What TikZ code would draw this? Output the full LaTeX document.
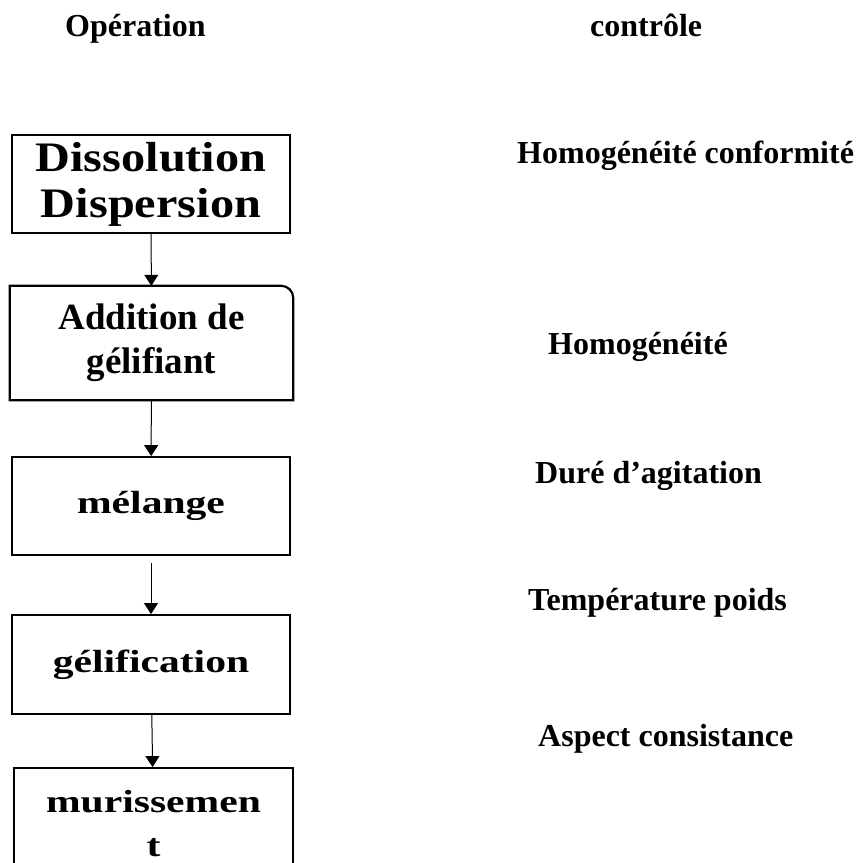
\documentclass[tikz,border=0pt]{standalone}
\usepackage{fontspec}
\setmainfont{Liberation Serif}
\newfontfamily\widefont[FakeStretch=1.3]{Liberation Serif}
\newfontfamily\semiwidefont[FakeStretch=1.15]{Liberation Serif}
\usetikzlibrary{arrows.meta}

\begin{document}
\begin{tikzpicture}
    [x=1pt, y=-1pt, >={Triangle[width=14pt,length=11pt]},
     op/.style={draw, line width=1.8pt, minimum width=278pt, minimum height=98pt, inner sep=0pt, align=center},
     ctl/.style={anchor=base west, inner sep=0pt, font=\fontsize{32}{38}\selectfont\bfseries},
     flow/.style={->, line width=1pt}]
    \useasboundingbox (0,0) rectangle (856,863);
    % headers
    \node[ctl] (hop) at (65,36) {Opération};
    \node[ctl] (hctl) at (590,36) {contrôle};
    % operations
    \node[op, font=\semiwidefont\fontsize{42}{46}\selectfont\bfseries] (dis) at (151,184) {Dissolution\\Dispersion};
    \node[font=\fontsize{37}{44}\selectfont\bfseries, minimum width=283pt, minimum height=114pt, inner sep=0pt, align=center] (add) at (151.5,343) {Addition de\\gélifiant};
    \draw[line width=2.2pt] (add.south west) -- (add.north west) -- ([xshift=-12pt]add.north east) arc[start angle=90, end angle=0, radius=12pt] -- (add.south east) -- cycle;
    \node[op, font=\widefont\fontsize{32}{44}\selectfont\bfseries] (mel) at (151,506) {mélange};
    \node[op, font=\widefont\fontsize{32}{44}\selectfont\bfseries, minimum height=99pt] (gel) at (151,664.5) {gélification};
    \node[op, font=\widefont\fontsize{32}{44}\selectfont\bfseries, minimum width=279pt, minimum height=112pt] (mur) at (153.5,824) {murissemen\\t};
    % controls
    \node[ctl] (c1) at (517,163) {Homogénéité conformité};
    \node[ctl] (c2) at (548,354) {Homogénéité};
    \node[ctl] (c3) at (535,483) {Duré d’agitation};
    \node[ctl] (c4) at (528,610) {Température poids};
    \node[ctl] (c5) at (538,746) {Aspect consistance};
    % arrows
    \draw[flow] (dis) -- (add);
    \draw[flow] (add) -- (mel);
    \draw[flow, shorten <=7pt] (mel) -- (gel);
    \draw[flow] (gel) -- (mur);
\end{tikzpicture}
\end{document}
